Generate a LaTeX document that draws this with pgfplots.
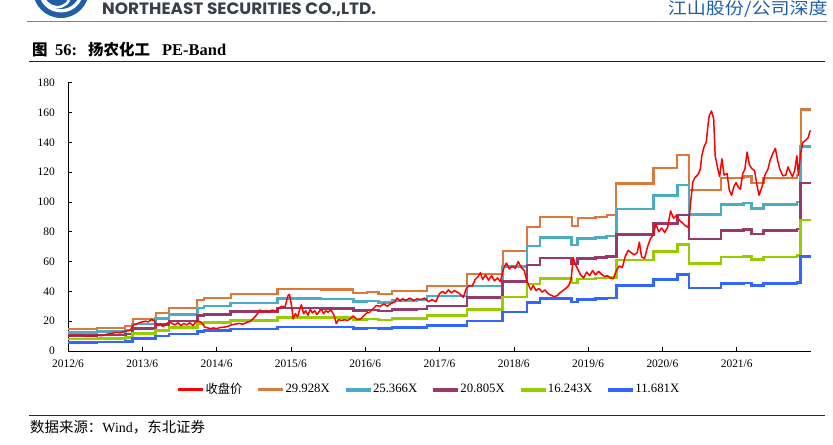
\documentclass[border=0pt]{standalone}
\usepackage{fontspec}
\setmainfont{Liberation Serif}
\newfontfamily\cjk{Noto Sans CJK SC}
\newfontfamily\pop{Poppins}
\usepackage{pgfplots}
\usepackage{pgfplotstable}
\pgfplotsset{compat=1.18}

\definecolor{cprice}{HTML}{FF0000}
\definecolor{corange}{HTML}{DB783B}
\definecolor{ccyan}{HTML}{4BACC6}
\definecolor{cpurple}{HTML}{963A6C}
\definecolor{cgreen}{HTML}{99CC00}
\definecolor{cblue}{HTML}{3366FF}
\definecolor{hdrblue}{HTML}{1F5FA8}
\definecolor{hdrline}{HTML}{5A8AC6}
\definecolor{hdrgray}{HTML}{3A3F4A}

% years after 2012/6; close price
\pgfplotstableread{
t v
0.00 10.5
0.05 10.0
0.10 10.8
0.15 10.2
0.20 10.5
0.25 9.8
0.30 10.3
0.35 10.0
0.40 10.6
0.45 10.2
0.50 11.0
0.55 11.5
0.60 12.0
0.65 12.5
0.70 12.2
0.75 13.0
0.80 13.5
0.84 14.0
0.88 17.5
0.92 18.0
0.96 19.0
1.00 19.5
1.04 20.0
1.08 19.5
1.12 21.0
1.16 20.5
1.20 17.0
1.24 17.5
1.28 16.5
1.32 18.0
1.36 19.5
1.40 18.5
1.44 17.5
1.48 19.0
1.52 17.0
1.56 18.5
1.60 17.5
1.64 19.0
1.68 17.0
1.72 19.5
1.76 20.0
1.80 19.0
1.84 16.0
1.88 15.5
1.92 15.0
1.96 15.5
2.00 15.0
2.05 15.8
2.10 16.0
2.15 16.5
2.20 17.5
2.25 18.0
2.30 18.5
2.35 18.0
2.40 19.0
2.45 20.0
2.50 22.0
2.55 25.0
2.58 27.5
2.62 26.0
2.66 27.0
2.70 26.0
2.75 27.5
2.80 26.5
2.84 29.0
2.88 30.0
2.92 29.5
2.96 37.0
2.98 38.0
3.01 30.0
3.03 21.5
3.06 25.0
3.09 23.0
3.12 28.0
3.14 31.0
3.17 25.0
3.20 27.0
3.23 24.0
3.26 28.0
3.29 25.5
3.32 27.0
3.35 24.5
3.38 26.5
3.41 28.0
3.44 25.0
3.47 27.0
3.50 26.0
3.54 27.5
3.58 24.0
3.61 18.5
3.64 21.0
3.68 20.5
3.72 21.0
3.76 20.5
3.80 21.5
3.84 23.5
3.87 22.0
3.90 21.0
3.94 21.5
3.98 23.5
4.02 25.5
4.06 26.0
4.10 28.0
4.15 30.5
4.20 30.0
4.25 31.5
4.30 30.0
4.35 32.0
4.40 33.0
4.43 35.5
4.47 33.5
4.50 35.0
4.55 34.0
4.60 35.5
4.65 34.0
4.70 35.0
4.75 34.5
4.80 35.5
4.85 33.0
4.90 34.5
4.95 33.0
5.00 38.5
5.04 40.0
5.08 38.5
5.12 41.0
5.16 39.0
5.20 40.5
5.24 39.5
5.28 38.0
5.32 36.0
5.36 42.0
5.40 44.0
5.44 43.5
5.48 48.0
5.52 50.0
5.55 52.5
5.58 48.0
5.62 51.0
5.66 47.5
5.70 50.5
5.74 47.0
5.78 49.0
5.82 46.5
5.86 55.0
5.90 59.0
5.94 55.0
5.98 57.0
6.02 55.5
6.06 60.0
6.10 56.0
6.14 54.0
6.17 48.0
6.20 44.0
6.23 41.0
6.26 44.0
6.30 40.5
6.34 42.0
6.38 39.5
6.42 41.0
6.46 38.5
6.50 37.5
6.54 36.5
6.58 37.0
6.62 39.0
6.66 40.5
6.70 42.0
6.74 44.0
6.77 48.0
6.80 62.5
6.83 58.0
6.86 55.0
6.90 51.0
6.94 49.0
6.98 53.0
7.02 50.5
7.06 54.0
7.10 51.0
7.14 53.5
7.18 51.5
7.22 50.0
7.26 50.5
7.30 49.0
7.34 48.5
7.38 54.0
7.42 57.0
7.46 56.0
7.50 63.5
7.54 67.5
7.58 66.0
7.62 64.5
7.66 66.0
7.69 73.0
7.72 63.0
7.76 62.0
7.80 70.0
7.84 75.5
7.88 78.0
7.91 85.5
7.95 80.0
7.99 82.5
8.03 79.5
8.07 83.0
8.11 94.0
8.15 89.0
8.19 91.0
8.23 87.5
8.27 86.0
8.31 84.0
8.35 83.0
8.38 100.0
8.41 113.5
8.44 116.5
8.48 118.5
8.51 122.0
8.53 131.0
8.56 137.0
8.59 140.0
8.61 150.0
8.63 158.0
8.66 161.0
8.69 156.0
8.71 131.0
8.74 123.5
8.77 117.0
8.80 129.0
8.83 118.0
8.87 119.0
8.90 108.0
8.93 104.5
8.96 110.0
8.99 113.0
9.02 110.0
9.05 108.5
9.08 119.0
9.11 122.0
9.14 133.5
9.17 125.0
9.20 122.5
9.24 121.0
9.27 112.0
9.30 104.5
9.34 110.0
9.38 118.0
9.42 122.0
9.45 128.0
9.49 133.0
9.52 136.0
9.55 128.0
9.58 122.0
9.62 117.5
9.66 118.0
9.69 123.5
9.72 120.0
9.75 117.0
9.78 121.0
9.81 131.0
9.83 118.0
9.86 132.5
9.89 140.0
9.92 141.0
9.96 143.0
9.99 148.0
}\price

% PE bands (step starts)
\pgfplotstableread{
t O C P G B
0.00 14.70 12.46 10.22 7.98 5.74
0.39 15.60 13.22 10.84 8.47 6.09
0.77 16.50 13.98 11.47 8.96 6.44
0.87 21.50 18.22 14.95 11.67 8.39
1.18 25.60 21.70 17.80 13.89 9.99
1.36 29.00 24.58 20.16 15.74 11.32
1.74 34.00 28.82 23.64 18.45 13.27
1.83 35.50 30.09 24.68 19.27 13.86
2.19 38.00 32.21 26.42 20.62 14.83
2.82 41.50 35.17 28.85 22.52 16.20
3.40 41.20 34.92 28.64 22.36 16.08
3.84 39.00 33.06 27.11 21.17 15.22
4.02 39.50 33.48 27.46 21.44 15.42
4.18 38.50 32.63 26.76 20.90 15.03
4.36 40.00 33.90 27.81 21.71 15.61
4.69 40.50 34.33 28.15 21.98 15.81
4.83 43.60 36.95 30.31 23.66 17.02
5.37 51.40 43.56 35.73 27.90 20.06
5.85 67.00 56.79 46.58 36.36 26.15
6.18 83.00 70.35 57.70 45.05 32.39
6.35 89.80 76.11 62.43 48.74 35.05
6.78 84.00 71.20 58.39 45.59 32.79
6.86 89.00 75.43 61.87 48.30 34.74
7.10 90.00 76.28 62.57 48.85 35.13
7.25 91.00 77.13 63.26 49.39 35.52
7.38 112.40 95.27 78.14 61.00 43.87
7.88 122.90 104.17 85.44 66.70 47.97
8.20 131.40 111.37 91.35 71.31 51.29
8.36 108.00 91.54 75.08 58.61 42.15
8.79 116.00 98.32 80.64 62.96 45.27
9.09 117.00 99.17 81.33 63.50 45.67
9.20 112.80 95.61 78.42 61.22 44.03
9.36 116.00 98.32 80.64 62.96 45.27
9.81 117.80 99.84 81.89 63.93 45.98
9.86 162.00 137.31 112.62 87.92 63.23
10.00 162.00 137.31 112.62 87.92 63.23
}\bands

\begin{document}
\begin{tikzpicture}[x=1bp,y=1bp]
\useasboundingbox (0,0) rectangle (833,445);

% header
\begin{scope}
\clip (0,0) rectangle (833,445);
\fill[hdrblue] (61,455) circle (28);
\fill[white] (61,455) circle (22.5);
\fill[hdrblue] (61,455) circle (19);
\draw[white, line width=2.5bp] (44,447) arc[start angle=200, end angle=330, radius=14];
\end{scope}
\node[anchor=base west, inner sep=0pt, text=hdrgray] at (102,430)
  {\resizebox{274bp}{11.7bp}{\pop\bfseries NORTHEAST SECURITIES CO.,LTD.}};
\node[anchor=base east, inner sep=0pt, text=hdrblue] at (828,430)
  {\resizebox{160bp}{14bp}{\cjk\fontsize{19}{20}\selectfont 江山股份/公司深度}};
\draw[hdrline, line width=1.6bp] (27,423.3) -- (827,423.3);

% title
\node[anchor=base west, inner sep=0pt] at (32,389) {\cjk\bfseries\fontsize{15.5}{16}\selectfont 图};
\node[anchor=base west, inner sep=0pt] at (55,389) {\bfseries\fontsize{16.5}{17}\selectfont 56:};
\node[anchor=base west, inner sep=0pt] at (88,389) {\cjk\bfseries\fontsize{15.5}{16}\selectfont 扬农化工};
\node[anchor=base west, inner sep=0pt] at (162,389) {\bfseries\fontsize{16.5}{17}\selectfont PE-Band};
\draw[black!85, line width=0.9bp] (29,383.3) -- (825,383.3);

\begin{axis}[
  at={(68bp,94bp)}, anchor=south west,
  scale only axis, width=743bp, height=268.3bp,
  xmin=0, xmax=10, ymin=0, ymax=180,
  axis lines*=left,
  axis line style={line width=0.8bp, black},
  tick align=inside, major tick length=3.5bp,
  tick style={black, line width=0.6bp},
  xtick={0,...,9},
  xticklabels={2012/6,2013/6,2014/6,2015/6,2016/6,2017/6,2018/6,2019/6,2020/6,2021/6},
  ytick={0,20,...,180},
  tick label style={font=\fontsize{11.5}{12}\selectfont, inner sep=0pt},
  yticklabel style={xshift=-13bp},
  xticklabel style={yshift=-9bp},
  /pgf/number format/assume math mode=true,
  legend columns=6,
  legend style={at={(0.148,-0.1435)}, anchor=west, draw=none, fill=none,
    inner sep=0pt, nodes={inner sep=0pt}, font=\fontsize{12.8}{13}\selectfont},
  /tikz/every odd column/.append style={column sep=3bp},
  /tikz/every even column/.append style={column sep=15.8bp},
]
\addlegendimage{legend image code/.code={\fill[cprice] (0bp,-0.8bp) rectangle (24bp,0.8bp);}}
\addlegendentry{\cjk\fontsize{12.3}{13}\selectfont 收盘价}
\addlegendimage{legend image code/.code={\fill[corange] (0bp,-1bp) rectangle (24bp,1bp);}}
\addlegendentry{29.928X}
\addlegendimage{legend image code/.code={\fill[ccyan] (0bp,-1.3bp) rectangle (24bp,1.3bp);}}
\addlegendentry{25.366X}
\addlegendimage{legend image code/.code={\fill[cpurple] (0bp,-1.3bp) rectangle (24bp,1.3bp);}}
\addlegendentry{20.805X}
\addlegendimage{legend image code/.code={\fill[cgreen] (0bp,-1.3bp) rectangle (24bp,1.3bp);}}
\addlegendentry{16.243X}
\addlegendimage{legend image code/.code={\fill[cblue] (0bp,-1.3bp) rectangle (24bp,1.3bp);}}
\addlegendentry{11.681X}
\addplot[corange, line width=2.2pt, const plot, forget plot] table[x=t, y=O] {\bands};
\addplot[ccyan, line width=2.6pt, const plot, forget plot] table[x=t, y=C] {\bands};
\addplot[cpurple, line width=2.6pt, const plot, forget plot] table[x=t, y=P] {\bands};
\addplot[cgreen, line width=2.6pt, const plot, forget plot] table[x=t, y=G] {\bands};
\addplot[cblue, line width=2.6pt, const plot, forget plot] table[x=t, y=B] {\bands};
\addplot[cprice, line width=1.5pt, line join=round, forget plot] table[x=t, y=v] {\price};
\end{axis}

% footer
\draw[black!85, line width=0.9bp] (29,30) -- (825,30);
\node[anchor=base west, inner sep=0pt] at (30,12)
  {{\cjk\fontsize{14.5}{15}\selectfont 数据来源：}{\fontsize{14}{15}\selectfont Wind}{\cjk\fontsize{14.5}{15}\selectfont ，东北证券}};
\end{tikzpicture}
\end{document}
